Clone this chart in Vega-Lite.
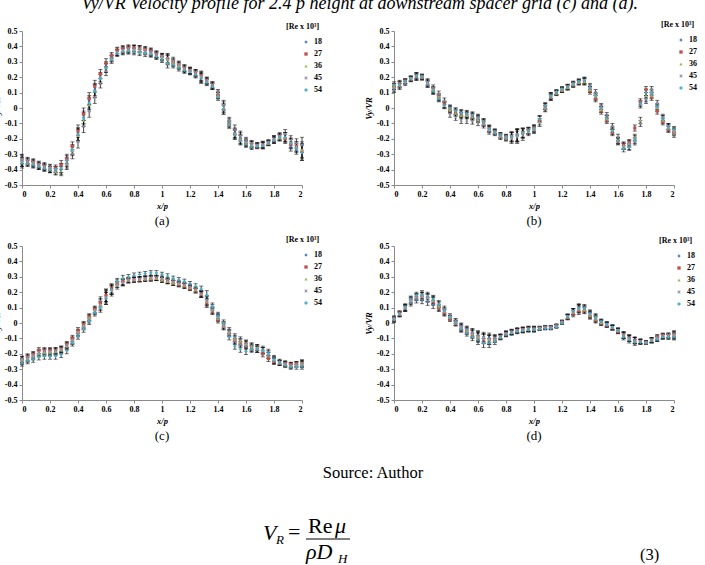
{
"$schema":"https://vega.github.io/schema/vega-lite/v6.json",
"padding":{"left":-8,"top":-5,"right":0,"bottom":0},
"title":{"text":"Vy/VR Velocity profile for 2.4 p height at downstream spacer grid (c) and (d).","font":"Liberation Serif","fontSize":18,"fontStyle":"italic","fontWeight":"normal","color":"#000","anchor":"middle","offset":8},
"config":{
 "view":{"stroke":null},
 "axis":{"labelFont":"Liberation Serif","labelFontWeight":"bold","labelFontSize":8,"labelColor":"#000","titleFont":"Liberation Serif","titleFontWeight":"bold","titleFontStyle":"italic","titleFontSize":8.5,"titleColor":"#000","domainColor":"#8a8a8a","tickColor":"#8a8a8a","tickSize":3,"grid":false,"labelPadding":2,"titlePadding":3},
 "legend":{"orient":"none","titleFont":"Liberation Serif","titleFontWeight":"bold","titleFontSize":8,"titleColor":"#000","labelFont":"Liberation Serif","labelFontWeight":"bold","labelFontSize":8,"labelColor":"#000","symbolSize":11,"symbolOffset":16,"rowPadding":4,"titlePadding":7,"padding":0,"labelOffset":4},
 "title":{"font":"Liberation Serif","fontSize":13,"fontWeight":"normal","color":"#000"}
},
"datasets":{"d":[
{"p":"a","x":0,"18":-0.36,"27":-0.34,"36":-0.35,"45":-0.33,"54":-0.35,"e":0.03},
{"p":"a","x":0.04,"18":-0.35,"27":-0.345,"36":-0.355,"45":-0.34,"54":-0.36,"e":0.02},
{"p":"a","x":0.08,"18":-0.365,"27":-0.355,"36":-0.36,"45":-0.35,"54":-0.37,"e":0.02},
{"p":"a","x":0.12,"18":-0.38,"27":-0.37,"36":-0.375,"45":-0.365,"54":-0.38,"e":0.02},
{"p":"a","x":0.16,"18":-0.39,"27":-0.38,"36":-0.385,"45":-0.375,"54":-0.39,"e":0.02},
{"p":"a","x":0.2,"18":-0.4,"27":-0.39,"36":-0.4,"45":-0.385,"54":-0.4,"e":0.02},
{"p":"a","x":0.24,"18":-0.41,"27":-0.39,"36":-0.415,"45":-0.4,"54":-0.4,"e":0.02},
{"p":"a","x":0.28,"18":-0.4,"27":-0.37,"36":-0.41,"45":-0.39,"54":-0.39,"e":0.03},
{"p":"a","x":0.32,"18":-0.35,"27":-0.33,"36":-0.36,"45":-0.37,"54":-0.34,"e":0.03},
{"p":"a","x":0.36,"18":-0.27,"27":-0.25,"36":-0.28,"45":-0.3,"54":-0.27,"e":0.03},
{"p":"a","x":0.4,"18":-0.17,"27":-0.15,"36":-0.18,"45":-0.22,"54":-0.17,"e":0.04},
{"p":"a","x":0.44,"18":-0.06,"27":-0.04,"36":-0.08,"45":-0.12,"54":-0.07,"e":0.04},
{"p":"a","x":0.48,"18":0.04,"27":0.06,"36":0.02,"45":-0.02,"54":0.03,"e":0.04},
{"p":"a","x":0.52,"18":0.12,"27":0.14,"36":0.11,"45":0.07,"54":0.11,"e":0.04},
{"p":"a","x":0.56,"18":0.2,"27":0.22,"36":0.19,"45":0.16,"54":0.19,"e":0.03},
{"p":"a","x":0.6,"18":0.27,"27":0.29,"36":0.26,"45":0.24,"54":0.26,"e":0.03},
{"p":"a","x":0.64,"18":0.33,"27":0.34,"36":0.32,"45":0.31,"54":0.32,"e":0.02},
{"p":"a","x":0.68,"18":0.37,"27":0.375,"36":0.36,"45":0.36,"54":0.355,"e":0.02},
{"p":"a","x":0.72,"18":0.38,"27":0.385,"36":0.37,"45":0.375,"54":0.365,"e":0.02},
{"p":"a","x":0.76,"18":0.38,"27":0.39,"36":0.375,"45":0.385,"54":0.37,"e":0.02},
{"p":"a","x":0.8,"18":0.385,"27":0.39,"36":0.375,"45":0.385,"54":0.365,"e":0.02},
{"p":"a","x":0.84,"18":0.38,"27":0.385,"36":0.37,"45":0.385,"54":0.36,"e":0.02},
{"p":"a","x":0.88,"18":0.37,"27":0.38,"36":0.365,"45":0.375,"54":0.355,"e":0.02},
{"p":"a","x":0.92,"18":0.36,"27":0.37,"36":0.355,"45":0.365,"54":0.35,"e":0.02},
{"p":"a","x":0.96,"18":0.345,"27":0.35,"36":0.34,"45":0.35,"54":0.335,"e":0.02},
{"p":"a","x":1,"18":0.325,"27":0.335,"36":0.33,"45":0.335,"54":0.315,"e":0.02},
{"p":"a","x":1.04,"18":0.31,"27":0.32,"36":0.315,"45":0.325,"54":0.29,"e":0.03},
{"p":"a","x":1.08,"18":0.29,"27":0.3,"36":0.295,"45":0.31,"54":0.28,"e":0.02},
{"p":"a","x":1.12,"18":0.27,"27":0.28,"36":0.275,"45":0.285,"54":0.26,"e":0.02},
{"p":"a","x":1.16,"18":0.25,"27":0.26,"36":0.255,"45":0.26,"54":0.245,"e":0.02},
{"p":"a","x":1.2,"18":0.24,"27":0.245,"36":0.24,"45":0.245,"54":0.235,"e":0.02},
{"p":"a","x":1.24,"18":0.22,"27":0.23,"36":0.225,"45":0.23,"54":0.215,"e":0.02},
{"p":"a","x":1.28,"18":0.195,"27":0.21,"36":0.2,"45":0.205,"54":0.19,"e":0.03},
{"p":"a","x":1.32,"18":0.17,"27":0.18,"36":0.175,"45":0.18,"54":0.165,"e":0.02},
{"p":"a","x":1.36,"18":0.14,"27":0.15,"36":0.145,"45":0.15,"54":0.14,"e":0.02},
{"p":"a","x":1.4,"18":0.09,"27":0.08,"36":0.08,"45":0.1,"54":0.07,"e":0.02},
{"p":"a","x":1.44,"18":0.01,"27":-0.01,"36":0,"45":0.02,"54":-0.01,"e":0.03},
{"p":"a","x":1.48,"18":-0.09,"27":-0.11,"36":-0.1,"45":-0.08,"54":-0.11,"e":0.02},
{"p":"a","x":1.52,"18":-0.16,"27":-0.17,"36":-0.165,"45":-0.14,"54":-0.175,"e":0.03},
{"p":"a","x":1.56,"18":-0.19,"27":-0.205,"36":-0.2,"45":-0.18,"54":-0.21,"e":0.03},
{"p":"a","x":1.6,"18":-0.22,"27":-0.23,"36":-0.225,"45":-0.21,"54":-0.235,"e":0.02},
{"p":"a","x":1.64,"18":-0.235,"27":-0.24,"36":-0.24,"45":-0.23,"54":-0.25,"e":0.02},
{"p":"a","x":1.68,"18":-0.24,"27":-0.245,"36":-0.245,"45":-0.24,"54":-0.25,"e":0.015},
{"p":"a","x":1.72,"18":-0.235,"27":-0.24,"36":-0.24,"45":-0.245,"54":-0.245,"e":0.02},
{"p":"a","x":1.76,"18":-0.22,"27":-0.225,"36":-0.23,"45":-0.23,"54":-0.225,"e":0.015},
{"p":"a","x":1.8,"18":-0.2,"27":-0.21,"36":-0.205,"45":-0.2,"54":-0.21,"e":0.02},
{"p":"a","x":1.84,"18":-0.19,"27":-0.185,"36":-0.195,"45":-0.18,"54":-0.19,"e":0.02},
{"p":"a","x":1.88,"18":-0.19,"27":-0.2,"36":-0.19,"45":-0.17,"54":-0.19,"e":0.03},
{"p":"a","x":1.92,"18":-0.25,"27":-0.235,"36":-0.225,"45":-0.21,"54":-0.23,"e":0.03},
{"p":"a","x":1.96,"18":-0.27,"27":-0.25,"36":-0.25,"45":-0.23,"54":-0.26,"e":0.03},
{"p":"a","x":2,"18":-0.29,"27":-0.28,"36":-0.27,"45":-0.24,"54":-0.29,"e":0.05},
{"p":"b","x":0,"18":0.13,"27":0.14,"36":0.14,"45":0.12,"54":0.15,"e":0.02},
{"p":"b","x":0.04,"18":0.15,"27":0.16,"36":0.15,"45":0.14,"54":0.155,"e":0.02},
{"p":"b","x":0.08,"18":0.17,"27":0.175,"36":0.17,"45":0.16,"54":0.175,"e":0.015},
{"p":"b","x":0.12,"18":0.19,"27":0.19,"36":0.19,"45":0.185,"54":0.195,"e":0.015},
{"p":"b","x":0.16,"18":0.2,"27":0.205,"36":0.21,"45":0.2,"54":0.21,"e":0.02},
{"p":"b","x":0.2,"18":0.2,"27":0.205,"36":0.2,"45":0.195,"54":0.205,"e":0.015},
{"p":"b","x":0.24,"18":0.16,"27":0.155,"36":0.165,"45":0.17,"54":0.155,"e":0.02},
{"p":"b","x":0.28,"18":0.11,"27":0.115,"36":0.12,"45":0.13,"54":0.11,"e":0.02},
{"p":"b","x":0.32,"18":0.065,"27":0.07,"36":0.075,"45":0.09,"54":0.06,"e":0.02},
{"p":"b","x":0.36,"18":0.02,"27":0.025,"36":0.02,"45":0.045,"54":0.015,"e":0.02},
{"p":"b","x":0.4,"18":-0.005,"27":-0.01,"36":-0.015,"45":-0.04,"54":0,"e":0.02},
{"p":"b","x":0.44,"18":-0.02,"27":-0.03,"36":-0.035,"45":-0.06,"54":-0.02,"e":0.02},
{"p":"b","x":0.48,"18":-0.03,"27":-0.04,"36":-0.05,"45":-0.08,"54":-0.035,"e":0.02},
{"p":"b","x":0.52,"18":-0.035,"27":-0.045,"36":-0.05,"45":-0.08,"54":-0.04,"e":0.02},
{"p":"b","x":0.56,"18":-0.045,"27":-0.055,"36":-0.06,"45":-0.085,"54":-0.05,"e":0.02},
{"p":"b","x":0.6,"18":-0.06,"27":-0.07,"36":-0.075,"45":-0.095,"54":-0.065,"e":0.02},
{"p":"b","x":0.64,"18":-0.09,"27":-0.095,"36":-0.1,"45":-0.11,"54":-0.09,"e":0.02},
{"p":"b","x":0.68,"18":-0.13,"27":-0.135,"36":-0.14,"45":-0.15,"54":-0.135,"e":0.02},
{"p":"b","x":0.72,"18":-0.15,"27":-0.155,"36":-0.16,"45":-0.165,"54":-0.155,"e":0.015},
{"p":"b","x":0.76,"18":-0.175,"27":-0.18,"36":-0.185,"45":-0.19,"54":-0.175,"e":0.015},
{"p":"b","x":0.8,"18":-0.19,"27":-0.19,"36":-0.195,"45":-0.2,"54":-0.185,"e":0.015},
{"p":"b","x":0.84,"18":-0.19,"27":-0.185,"36":-0.19,"45":-0.2,"54":-0.185,"e":0.03},
{"p":"b","x":0.88,"18":-0.18,"27":-0.175,"36":-0.18,"45":-0.19,"54":-0.175,"e":0.04},
{"p":"b","x":0.92,"18":-0.165,"27":-0.16,"36":-0.165,"45":-0.18,"54":-0.16,"e":0.03},
{"p":"b","x":0.96,"18":-0.15,"27":-0.145,"36":-0.15,"45":-0.16,"54":-0.145,"e":0.02},
{"p":"b","x":1,"18":-0.14,"27":-0.13,"36":-0.135,"45":-0.145,"54":-0.13,"e":0.02},
{"p":"b","x":1.04,"18":-0.07,"27":-0.075,"36":-0.09,"45":-0.1,"54":-0.07,"e":0.02},
{"p":"b","x":1.08,"18":0.01,"27":0.01,"36":0,"45":-0.005,"54":0.015,"e":0.02},
{"p":"b","x":1.12,"18":0.08,"27":0.075,"36":0.07,"45":0.07,"54":0.08,"e":0.02},
{"p":"b","x":1.16,"18":0.1,"27":0.1,"36":0.095,"45":0.1,"54":0.105,"e":0.015},
{"p":"b","x":1.2,"18":0.12,"27":0.115,"36":0.115,"45":0.12,"54":0.125,"e":0.015},
{"p":"b","x":1.24,"18":0.135,"27":0.135,"36":0.13,"45":0.14,"54":0.135,"e":0.015},
{"p":"b","x":1.28,"18":0.155,"27":0.15,"36":0.15,"45":0.16,"54":0.155,"e":0.015},
{"p":"b","x":1.32,"18":0.17,"27":0.165,"36":0.165,"45":0.175,"54":0.17,"e":0.015},
{"p":"b","x":1.36,"18":0.175,"27":0.17,"36":0.17,"45":0.18,"54":0.18,"e":0.02},
{"p":"b","x":1.4,"18":0.12,"27":0.11,"36":0.12,"45":0.14,"54":0.13,"e":0.02},
{"p":"b","x":1.44,"18":0.07,"27":0.06,"36":0.075,"45":0.1,"54":0.08,"e":0.02},
{"p":"b","x":1.48,"18":-0.01,"27":-0.02,"36":-0.01,"45":0.01,"54":0,"e":0.02},
{"p":"b","x":1.52,"18":-0.07,"27":-0.08,"36":-0.07,"45":-0.05,"54":-0.065,"e":0.02},
{"p":"b","x":1.56,"18":-0.15,"27":-0.16,"36":-0.14,"45":-0.12,"54":-0.15,"e":0.02},
{"p":"b","x":1.6,"18":-0.21,"27":-0.22,"36":-0.21,"45":-0.19,"54":-0.215,"e":0.02},
{"p":"b","x":1.64,"18":-0.25,"27":-0.24,"36":-0.245,"45":-0.25,"54":-0.265,"e":0.02},
{"p":"b","x":1.68,"18":-0.25,"27":-0.225,"36":-0.23,"45":-0.235,"54":-0.255,"e":0.02},
{"p":"b","x":1.72,"18":-0.2,"27":-0.13,"36":-0.19,"45":-0.22,"54":-0.21,"e":0.02},
{"p":"b","x":1.76,"18":0.02,"27":0.04,"36":-0.08,"45":-0.1,"54":0.03,"e":0.02},
{"p":"b","x":1.8,"18":0.05,"27":0.12,"36":0.08,"45":0.06,"54":0.1,"e":0.02},
{"p":"b","x":1.84,"18":0.09,"27":0.07,"36":0.08,"45":0.12,"54":0.1,"e":0.02},
{"p":"b","x":1.88,"18":0,"27":-0.02,"36":0,"45":0.03,"54":0.01,"e":0.02},
{"p":"b","x":1.92,"18":-0.07,"27":-0.09,"36":-0.08,"45":-0.06,"54":-0.07,"e":0.02},
{"p":"b","x":1.96,"18":-0.12,"27":-0.14,"36":-0.13,"45":-0.12,"54":-0.13,"e":0.02},
{"p":"b","x":2,"18":-0.15,"27":-0.16,"36":-0.15,"45":-0.17,"54":-0.14,"e":0.02},
{"p":"c","x":0,"18":-0.25,"27":-0.24,"36":-0.24,"45":-0.235,"54":-0.26,"e":0.02},
{"p":"c","x":0.04,"18":-0.235,"27":-0.22,"36":-0.23,"45":-0.225,"54":-0.245,"e":0.02},
{"p":"c","x":0.08,"18":-0.22,"27":-0.205,"36":-0.215,"45":-0.21,"54":-0.235,"e":0.02},
{"p":"c","x":0.12,"18":-0.2,"27":-0.18,"36":-0.195,"45":-0.19,"54":-0.22,"e":0.02},
{"p":"c","x":0.16,"18":-0.195,"27":-0.18,"36":-0.19,"45":-0.185,"54":-0.215,"e":0.02},
{"p":"c","x":0.2,"18":-0.195,"27":-0.18,"36":-0.19,"45":-0.185,"54":-0.215,"e":0.02},
{"p":"c","x":0.24,"18":-0.19,"27":-0.18,"36":-0.185,"45":-0.18,"54":-0.215,"e":0.02},
{"p":"c","x":0.28,"18":-0.18,"27":-0.17,"36":-0.175,"45":-0.17,"54":-0.205,"e":0.02},
{"p":"c","x":0.32,"18":-0.155,"27":-0.14,"36":-0.15,"45":-0.145,"54":-0.18,"e":0.02},
{"p":"c","x":0.36,"18":-0.12,"27":-0.1,"36":-0.11,"45":-0.115,"54":-0.13,"e":0.02},
{"p":"c","x":0.4,"18":-0.065,"27":-0.05,"36":-0.06,"45":-0.07,"54":-0.085,"e":0.02},
{"p":"c","x":0.44,"18":-0.02,"27":-0.01,"36":-0.015,"45":-0.025,"54":-0.04,"e":0.02},
{"p":"c","x":0.48,"18":0.03,"27":0.04,"36":0.035,"45":0.02,"54":0.01,"e":0.02},
{"p":"c","x":0.52,"18":0.08,"27":0.09,"36":0.085,"45":0.075,"54":0.065,"e":0.02},
{"p":"c","x":0.56,"18":0.14,"27":0.13,"36":0.12,"45":0.11,"54":0.1,"e":0.03},
{"p":"c","x":0.6,"18":0.18,"27":0.18,"36":0.17,"45":0.16,"54":0.16,"e":0.04},
{"p":"c","x":0.64,"18":0.22,"27":0.225,"36":0.215,"45":0.205,"54":0.215,"e":0.03},
{"p":"c","x":0.68,"18":0.25,"27":0.26,"36":0.25,"45":0.24,"54":0.27,"e":0.02},
{"p":"c","x":0.72,"18":0.265,"27":0.27,"36":0.265,"45":0.26,"54":0.29,"e":0.02},
{"p":"c","x":0.76,"18":0.275,"27":0.28,"36":0.28,"45":0.275,"54":0.3,"e":0.015},
{"p":"c","x":0.8,"18":0.285,"27":0.28,"36":0.28,"45":0.28,"54":0.31,"e":0.015},
{"p":"c","x":0.84,"18":0.285,"27":0.28,"36":0.285,"45":0.285,"54":0.315,"e":0.015},
{"p":"c","x":0.88,"18":0.29,"27":0.285,"36":0.285,"45":0.29,"54":0.32,"e":0.015},
{"p":"c","x":0.92,"18":0.29,"27":0.285,"36":0.29,"45":0.295,"54":0.325,"e":0.015},
{"p":"c","x":0.96,"18":0.29,"27":0.29,"36":0.29,"45":0.295,"54":0.325,"e":0.015},
{"p":"c","x":1,"18":0.28,"27":0.28,"36":0.28,"45":0.29,"54":0.315,"e":0.015},
{"p":"c","x":1.04,"18":0.27,"27":0.27,"36":0.27,"45":0.28,"54":0.305,"e":0.015},
{"p":"c","x":1.08,"18":0.26,"27":0.26,"36":0.26,"45":0.27,"54":0.29,"e":0.015},
{"p":"c","x":1.12,"18":0.25,"27":0.25,"36":0.255,"45":0.26,"54":0.28,"e":0.015},
{"p":"c","x":1.16,"18":0.24,"27":0.24,"36":0.245,"45":0.25,"54":0.27,"e":0.015},
{"p":"c","x":1.2,"18":0.23,"27":0.225,"36":0.23,"45":0.235,"54":0.255,"e":0.015},
{"p":"c","x":1.24,"18":0.21,"27":0.21,"36":0.215,"45":0.22,"54":0.24,"e":0.015},
{"p":"c","x":1.28,"18":0.185,"27":0.185,"36":0.19,"45":0.19,"54":0.22,"e":0.02},
{"p":"c","x":1.32,"18":0.15,"27":0.13,"36":0.14,"45":0.145,"54":0.18,"e":0.03},
{"p":"c","x":1.36,"18":0.1,"27":0.075,"36":0.085,"45":0.08,"54":0.11,"e":0.02},
{"p":"c","x":1.4,"18":0.05,"27":0.02,"36":0.03,"45":0.035,"54":0.04,"e":0.02},
{"p":"c","x":1.44,"18":-0.01,"27":-0.02,"36":-0.015,"45":-0.025,"54":0,"e":0.02},
{"p":"c","x":1.48,"18":-0.05,"27":-0.065,"36":-0.06,"45":-0.07,"54":-0.09,"e":0.02},
{"p":"c","x":1.52,"18":-0.09,"27":-0.11,"36":-0.1,"45":-0.12,"54":-0.15,"e":0.02},
{"p":"c","x":1.56,"18":-0.11,"27":-0.125,"36":-0.12,"45":-0.14,"54":-0.17,"e":0.02},
{"p":"c","x":1.6,"18":-0.13,"27":-0.14,"36":-0.135,"45":-0.15,"54":-0.185,"e":0.02},
{"p":"c","x":1.64,"18":-0.15,"27":-0.16,"36":-0.15,"45":-0.165,"54":-0.17,"e":0.02},
{"p":"c","x":1.68,"18":-0.16,"27":-0.17,"36":-0.16,"45":-0.17,"54":-0.17,"e":0.02},
{"p":"c","x":1.72,"18":-0.17,"27":-0.2,"36":-0.18,"45":-0.18,"54":-0.18,"e":0.02},
{"p":"c","x":1.76,"18":-0.19,"27":-0.23,"36":-0.21,"45":-0.21,"54":-0.2,"e":0.02},
{"p":"c","x":1.8,"18":-0.23,"27":-0.25,"36":-0.24,"45":-0.245,"54":-0.24,"e":0.02},
{"p":"c","x":1.84,"18":-0.25,"27":-0.26,"36":-0.255,"45":-0.26,"54":-0.26,"e":0.015},
{"p":"c","x":1.88,"18":-0.26,"27":-0.265,"36":-0.265,"45":-0.27,"54":-0.275,"e":0.015},
{"p":"c","x":1.92,"18":-0.27,"27":-0.27,"36":-0.275,"45":-0.28,"54":-0.285,"e":0.015},
{"p":"c","x":1.96,"18":-0.265,"27":-0.265,"36":-0.27,"45":-0.275,"54":-0.285,"e":0.015},
{"p":"c","x":2,"18":-0.26,"27":-0.265,"36":-0.26,"45":-0.27,"54":-0.28,"e":0.02},
{"p":"d","x":0,"18":0.02,"27":0.03,"36":0.025,"45":0.02,"54":0.03,"e":0.015},
{"p":"d","x":0.04,"18":0.055,"27":0.065,"36":0.06,"45":0.055,"54":0.06,"e":0.015},
{"p":"d","x":0.08,"18":0.095,"27":0.1,"36":0.1,"45":0.095,"54":0.105,"e":0.02},
{"p":"d","x":0.12,"18":0.13,"27":0.15,"36":0.145,"45":0.14,"54":0.155,"e":0.02},
{"p":"d","x":0.16,"18":0.15,"27":0.17,"36":0.17,"45":0.165,"54":0.18,"e":0.02},
{"p":"d","x":0.2,"18":0.15,"27":0.175,"36":0.175,"45":0.17,"54":0.185,"e":0.025},
{"p":"d","x":0.24,"18":0.14,"27":0.165,"36":0.165,"45":0.16,"54":0.175,"e":0.025},
{"p":"d","x":0.28,"18":0.12,"27":0.14,"36":0.145,"45":0.15,"54":0.155,"e":0.025},
{"p":"d","x":0.32,"18":0.095,"27":0.1,"36":0.11,"45":0.125,"54":0.12,"e":0.02},
{"p":"d","x":0.36,"18":0.07,"27":0.065,"36":0.075,"45":0.09,"54":0.08,"e":0.02},
{"p":"d","x":0.4,"18":0.035,"27":0.025,"36":0.035,"45":0.045,"54":0.035,"e":0.015},
{"p":"d","x":0.44,"18":0.01,"27":-0.005,"36":0,"45":0.015,"54":0,"e":0.015},
{"p":"d","x":0.48,"18":-0.02,"27":-0.035,"36":-0.03,"45":-0.025,"54":-0.04,"e":0.02},
{"p":"d","x":0.52,"18":-0.04,"27":-0.055,"36":-0.05,"45":-0.045,"54":-0.065,"e":0.02},
{"p":"d","x":0.56,"18":-0.06,"27":-0.075,"36":-0.07,"45":-0.065,"54":-0.09,"e":0.025},
{"p":"d","x":0.6,"18":-0.08,"27":-0.095,"36":-0.09,"45":-0.085,"54":-0.11,"e":0.03},
{"p":"d","x":0.64,"18":-0.09,"27":-0.105,"36":-0.1,"45":-0.1,"54":-0.13,"e":0.03},
{"p":"d","x":0.68,"18":-0.095,"27":-0.11,"36":-0.11,"45":-0.105,"54":-0.13,"e":0.03},
{"p":"d","x":0.72,"18":-0.095,"27":-0.105,"36":-0.105,"45":-0.1,"54":-0.12,"e":0.02},
{"p":"d","x":0.76,"18":-0.085,"27":-0.09,"36":-0.09,"45":-0.09,"54":-0.095,"e":0.015},
{"p":"d","x":0.8,"18":-0.065,"27":-0.07,"36":-0.07,"45":-0.07,"54":-0.075,"e":0.015},
{"p":"d","x":0.84,"18":-0.055,"27":-0.06,"36":-0.06,"45":-0.06,"54":-0.065,"e":0.015},
{"p":"d","x":0.88,"18":-0.045,"27":-0.05,"36":-0.05,"45":-0.05,"54":-0.055,"e":0.015},
{"p":"d","x":0.92,"18":-0.04,"27":-0.045,"36":-0.045,"45":-0.045,"54":-0.05,"e":0.015},
{"p":"d","x":0.96,"18":-0.035,"27":-0.04,"36":-0.04,"45":-0.04,"54":-0.045,"e":0.015},
{"p":"d","x":1,"18":-0.035,"27":-0.04,"36":-0.04,"45":-0.04,"54":-0.045,"e":0.015},
{"p":"d","x":1.04,"18":-0.03,"27":-0.035,"36":-0.035,"45":-0.035,"54":-0.04,"e":0.01},
{"p":"d","x":1.08,"18":-0.025,"27":-0.03,"36":-0.03,"45":-0.03,"54":-0.035,"e":0.01},
{"p":"d","x":1.12,"18":-0.025,"27":-0.03,"36":-0.03,"45":-0.03,"54":-0.035,"e":0.01},
{"p":"d","x":1.16,"18":-0.015,"27":-0.02,"36":-0.02,"45":-0.02,"54":-0.025,"e":0.01},
{"p":"d","x":1.2,"18":0.01,"27":0.005,"36":0.005,"45":0.005,"54":0,"e":0.01},
{"p":"d","x":1.24,"18":0.045,"27":0.035,"36":0.04,"45":0.04,"54":0.04,"e":0.015},
{"p":"d","x":1.28,"18":0.075,"27":0.06,"36":0.07,"45":0.075,"54":0.075,"e":0.02},
{"p":"d","x":1.32,"18":0.1,"27":0.08,"36":0.09,"45":0.095,"54":0.095,"e":0.025},
{"p":"d","x":1.36,"18":0.1,"27":0.08,"36":0.085,"45":0.09,"54":0.095,"e":0.02},
{"p":"d","x":1.4,"18":0.065,"27":0.045,"36":0.05,"45":0.055,"54":0.06,"e":0.02},
{"p":"d","x":1.44,"18":0.04,"27":0.02,"36":0.025,"45":0.03,"54":0.035,"e":0.02},
{"p":"d","x":1.48,"18":0.01,"27":0,"36":0,"45":0.005,"54":0.01,"e":0.015},
{"p":"d","x":1.52,"18":-0.005,"27":-0.015,"36":-0.01,"45":-0.01,"54":-0.01,"e":0.015},
{"p":"d","x":1.56,"18":-0.025,"27":-0.03,"36":-0.03,"45":-0.03,"54":-0.03,"e":0.015},
{"p":"d","x":1.6,"18":-0.045,"27":-0.055,"36":-0.05,"45":-0.05,"54":-0.05,"e":0.015},
{"p":"d","x":1.64,"18":-0.075,"27":-0.08,"36":-0.08,"45":-0.08,"54":-0.09,"e":0.02},
{"p":"d","x":1.68,"18":-0.095,"27":-0.1,"36":-0.1,"45":-0.1,"54":-0.11,"e":0.02},
{"p":"d","x":1.72,"18":-0.11,"27":-0.115,"36":-0.115,"45":-0.115,"54":-0.125,"e":0.02},
{"p":"d","x":1.76,"18":-0.12,"27":-0.12,"36":-0.12,"45":-0.12,"54":-0.125,"e":0.015},
{"p":"d","x":1.8,"18":-0.125,"27":-0.125,"36":-0.125,"45":-0.125,"54":-0.13,"e":0.01},
{"p":"d","x":1.84,"18":-0.115,"27":-0.11,"36":-0.11,"45":-0.11,"54":-0.115,"e":0.015},
{"p":"d","x":1.88,"18":-0.105,"27":-0.09,"36":-0.1,"45":-0.095,"54":-0.105,"e":0.015},
{"p":"d","x":1.92,"18":-0.09,"27":-0.08,"36":-0.085,"45":-0.085,"54":-0.09,"e":0.015},
{"p":"d","x":1.96,"18":-0.09,"27":-0.08,"36":-0.085,"45":-0.08,"54":-0.09,"e":0.015},
{"p":"d","x":2,"18":-0.085,"27":-0.075,"36":-0.08,"45":-0.07,"54":-0.09,"e":0.02}
]},
"vconcat":[
 {"hconcat":[
  {"width":280,"height":154,"title":{"text":"(a)","orient":"bottom","offset":5},"data":{"name":"d"},
   "transform":[{"filter":"datum.p==='a'"},{"fold":["18","27","36","45","54"],"as":["s","v"]}],
   "encoding":{"x":{"field":"x","type":"quantitative","scale":{"domain":[0,2],"nice":false},"axis":{"values":[0,0.2,0.4,0.6,0.8,1,1.2,1.4,1.6,1.8,2],"format":".1~f","title":"x/p"}},
    "y":{"field":"v","type":"quantitative","scale":{"domain":[-0.5,0.5],"nice":false,"zero":false},"axis":{"values":[-0.5,-0.4,-0.3,-0.2,-0.1,0,0.1,0.2,0.3,0.4,0.5],"labelExpr":"replace(format(datum.value,'.1~f'),'−','-')","title":"Vy/VR"}}},
   "layer":[
    {"mark":{"type":"errorbar","ticks":true,"size":4,"thickness":0.8,"color":"#111"},"encoding":{"yError":{"field":"e"}}},
    {"mark":{"type":"point","filled":true,"size":10,"opacity":1},"encoding":{
      "color":{"field":"s","type":"nominal","scale":{"domain":["18","27","36","45","54"],"range":["#4F81BD","#C0504D","#9BBB59","#9590A8","#4BACC6"]},"legend":{"title":"[Re x 10³]","legendX":264,"legendY":-8}},
      "shape":{"field":"s","type":"nominal","scale":{"domain":["18","27","36","45","54"],"range":["diamond","square","triangle-up","M-1,-0.6L-0.6,-1L0,-0.4L0.6,-1L1,-0.6L0.4,0L1,0.6L0.6,1L0,0.4L-0.6,1L-1,0.6L-0.4,0Z","cross"]},"legend":{"title":"[Re x 10³]","legendX":264,"legendY":-8}}}}
   ]},
  {"width":280,"height":154,"title":{"text":"(b)","orient":"bottom","offset":5},"data":{"name":"d"},
   "transform":[{"filter":"datum.p==='b'"},{"fold":["18","27","36","45","54"],"as":["s","v"]}],
   "encoding":{"x":{"field":"x","type":"quantitative","scale":{"domain":[0,2],"nice":false},"axis":{"values":[0,0.2,0.4,0.6,0.8,1,1.2,1.4,1.6,1.8,2],"format":".1~f","title":"x/p"}},
    "y":{"field":"v","type":"quantitative","scale":{"domain":[-0.5,0.5],"nice":false,"zero":false},"axis":{"values":[-0.5,-0.4,-0.3,-0.2,-0.1,0,0.1,0.2,0.3,0.4,0.5],"labelExpr":"replace(format(datum.value,'.1~f'),'−','-')","title":"Vy/VR"}}},
   "layer":[
    {"mark":{"type":"errorbar","ticks":true,"size":4,"thickness":0.8,"color":"#111"},"encoding":{"yError":{"field":"e"}}},
    {"mark":{"type":"point","filled":true,"size":10,"opacity":1},"encoding":{
      "color":{"field":"s","type":"nominal","scale":{"domain":["18","27","36","45","54"],"range":["#4F81BD","#C0504D","#9BBB59","#9590A8","#4BACC6"]},"legend":{"title":"[Re x 10³]","legendX":267,"legendY":-10}},
      "shape":{"field":"s","type":"nominal","scale":{"domain":["18","27","36","45","54"],"range":["diamond","square","triangle-up","M-1,-0.6L-0.6,-1L0,-0.4L0.6,-1L1,-0.6L0.4,0L1,0.6L0.6,1L0,0.4L-0.6,1L-1,0.6L-0.4,0Z","cross"]},"legend":{"title":"[Re x 10³]","legendX":267,"legendY":-10}}}}
   ]}
 ],"spacing":92,"bounds":"flush","resolve":{"scale":{"color":"independent","shape":"independent"},"legend":{"color":"independent","shape":"independent"}}},
 {"hconcat":[
  {"width":280,"height":154,"title":{"text":"(c)","orient":"bottom","offset":5},"data":{"name":"d"},
   "transform":[{"filter":"datum.p==='c'"},{"fold":["18","27","36","45","54"],"as":["s","v"]}],
   "encoding":{"x":{"field":"x","type":"quantitative","scale":{"domain":[0,2],"nice":false},"axis":{"values":[0,0.2,0.4,0.6,0.8,1,1.2,1.4,1.6,1.8,2],"format":".1~f","title":"x/p"}},
    "y":{"field":"v","type":"quantitative","scale":{"domain":[-0.5,0.5],"nice":false,"zero":false},"axis":{"values":[-0.5,-0.4,-0.3,-0.2,-0.1,0,0.1,0.2,0.3,0.4,0.5],"labelExpr":"replace(format(datum.value,'.1~f'),'−','-')","title":"Vy/VR"}}},
   "layer":[
    {"mark":{"type":"errorbar","ticks":true,"size":4,"thickness":0.8,"color":"#111"},"encoding":{"yError":{"field":"e"}}},
    {"mark":{"type":"point","filled":true,"size":10,"opacity":1},"encoding":{
      "color":{"field":"s","type":"nominal","scale":{"domain":["18","27","36","45","54"],"range":["#4F81BD","#C0504D","#9BBB59","#9590A8","#4BACC6"]},"legend":{"title":"[Re x 10³]","legendX":264,"legendY":-10}},
      "shape":{"field":"s","type":"nominal","scale":{"domain":["18","27","36","45","54"],"range":["diamond","square","triangle-up","M-1,-0.6L-0.6,-1L0,-0.4L0.6,-1L1,-0.6L0.4,0L1,0.6L0.6,1L0,0.4L-0.6,1L-1,0.6L-0.4,0Z","cross"]},"legend":{"title":"[Re x 10³]","legendX":264,"legendY":-10}}}}
   ]},
  {"width":280,"height":154,"title":{"text":"(d)","orient":"bottom","offset":5},"data":{"name":"d"},
   "transform":[{"filter":"datum.p==='d'"},{"fold":["18","27","36","45","54"],"as":["s","v"]}],
   "encoding":{"x":{"field":"x","type":"quantitative","scale":{"domain":[0,2],"nice":false},"axis":{"values":[0,0.2,0.4,0.6,0.8,1,1.2,1.4,1.6,1.8,2],"format":".1~f","title":"x/p"}},
    "y":{"field":"v","type":"quantitative","scale":{"domain":[-0.5,0.5],"nice":false,"zero":false},"axis":{"values":[-0.5,-0.4,-0.3,-0.2,-0.1,0,0.1,0.2,0.3,0.4,0.5],"labelExpr":"replace(format(datum.value,'.1~f'),'−','-')","title":"Vy/VR"}}},
   "layer":[
    {"mark":{"type":"errorbar","ticks":true,"size":4,"thickness":0.8,"color":"#111"},"encoding":{"yError":{"field":"e"}}},
    {"mark":{"type":"point","filled":true,"size":10,"opacity":1},"encoding":{
      "color":{"field":"s","type":"nominal","scale":{"domain":["18","27","36","45","54"],"range":["#4F81BD","#C0504D","#9BBB59","#9590A8","#4BACC6"]},"legend":{"title":"[Re x 10³]","legendX":265,"legendY":-9}},
      "shape":{"field":"s","type":"nominal","scale":{"domain":["18","27","36","45","54"],"range":["diamond","square","triangle-up","M-1,-0.6L-0.6,-1L0,-0.4L0.6,-1L1,-0.6L0.4,0L1,0.6L0.6,1L0,0.4L-0.6,1L-1,0.6L-0.4,0Z","cross"]},"legend":{"title":"[Re x 10³]","legendX":265,"legendY":-9}}}}
   ]}
 ],"spacing":92,"bounds":"flush","resolve":{"scale":{"color":"independent","shape":"independent"},"legend":{"color":"independent","shape":"independent"}}},
 {"width":705,"height":117,
  "data":{"values":[
   {"k":"src","t":"Source: Author","x":373,"y":477},
   {"k":"it","t":"V","x":263,"y":539},
   {"k":"sub","t":"R","x":276,"y":543},
   {"k":"rm","t":"=","x":288,"y":538},
   {"k":"rm","t":"Re","x":308,"y":532},
   {"k":"it","t":"μ","x":335,"y":532},
   {"k":"it","t":"ρD","x":306,"y":558},
   {"k":"sub","t":"H","x":338,"y":562},
   {"k":"num","t":"(3)","x":640,"y":559},
   {"k":"line","t":"","x":306,"x2":350,"y":538}
  ]},
  "encoding":{"x":{"field":"x","type":"quantitative","scale":{"domain":[22,727],"nice":false,"zero":false},"axis":null},
   "y":{"field":"y","type":"quantitative","scale":{"domain":[450,567],"nice":false,"zero":false,"reverse":true},"axis":null}},
  "layer":[
   {"transform":[{"filter":"datum.k==='src'"}],"mark":{"type":"text","font":"Liberation Serif","fontSize":16.5,"align":"center","baseline":"alphabetic","color":"#000"},"encoding":{"text":{"field":"t"}}},
   {"transform":[{"filter":"datum.k==='it'"}],"mark":{"type":"text","font":"Liberation Serif","fontSize":22,"fontStyle":"italic","align":"left","baseline":"alphabetic","color":"#000"},"encoding":{"text":{"field":"t"}}},
   {"transform":[{"filter":"datum.k==='rm'"}],"mark":{"type":"text","font":"Liberation Serif","fontSize":22,"align":"left","baseline":"alphabetic","color":"#000"},"encoding":{"text":{"field":"t"}}},
   {"transform":[{"filter":"datum.k==='sub'"}],"mark":{"type":"text","font":"Liberation Serif","fontSize":13,"fontStyle":"italic","align":"left","baseline":"alphabetic","color":"#000"},"encoding":{"text":{"field":"t"}}},
   {"transform":[{"filter":"datum.k==='num'"}],"mark":{"type":"text","font":"Liberation Serif","fontSize":16.5,"align":"left","baseline":"alphabetic","color":"#000"},"encoding":{"text":{"field":"t"}}},
   {"transform":[{"filter":"datum.k==='line'"}],"mark":{"type":"rule","color":"#000","strokeWidth":1},"encoding":{"x2":{"field":"x2"}}}
  ]}
],
"spacing":8,
"resolve":{"scale":{"color":"independent","shape":"independent"},"legend":{"color":"independent","shape":"independent"}}
}
